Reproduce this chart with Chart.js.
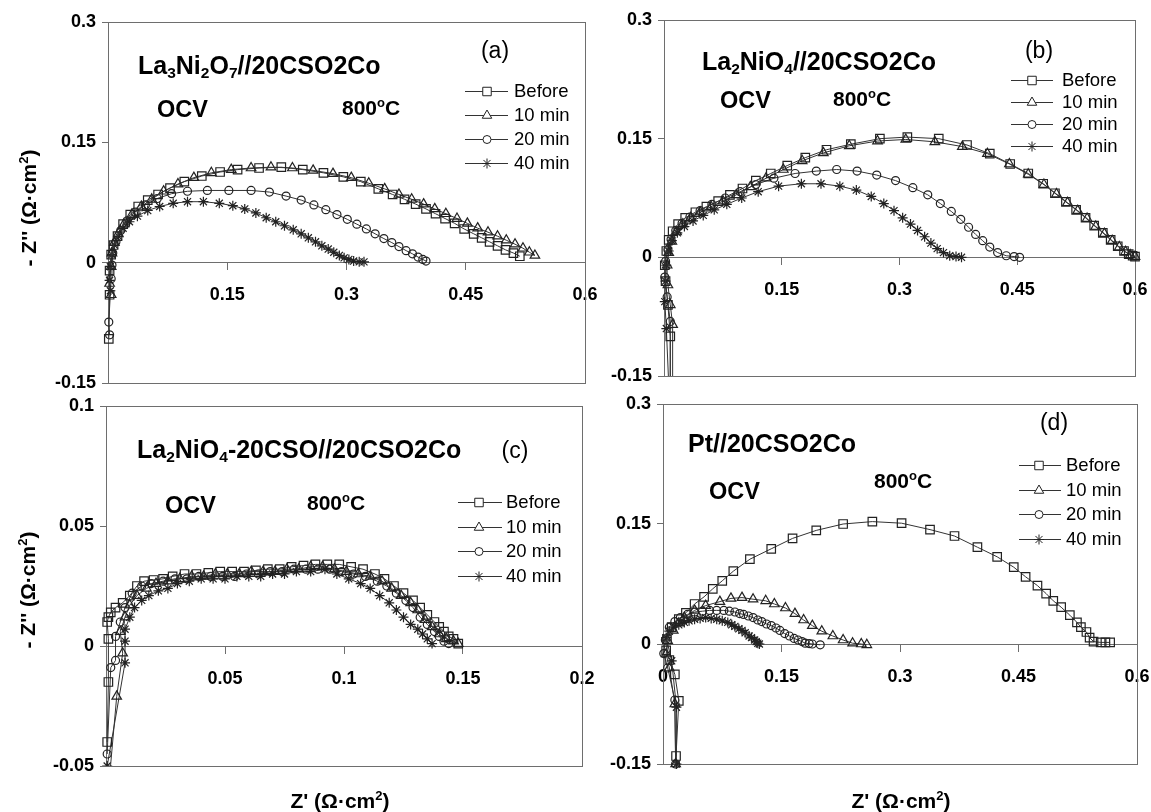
<!DOCTYPE html>
<html>
<head>
<meta charset="utf-8">
<script src="https://cdn.jsdelivr.net/npm/chart.js@4.4.0/dist/chart.umd.min.js"></script>
<style>
body { margin:0; background:#fff; }
#wrap { position:relative; width:1151px; height:812px; overflow:hidden; font-family:"Liberation Sans", Arial, sans-serif; color:#000; background:#fff; }
canvas { position:absolute; }
.lbl { position:absolute; white-space:nowrap; line-height:1; transform:translateY(-50%); }
.ttl { font-weight:bold; font-size:25px; }
.ocv { font-weight:bold; font-size:23.5px; }
.tmp { font-weight:bold; font-size:21px; }
.tag { font-size:23px; transform:translate(-50%,-50%); }
.axt { font-weight:bold; font-size:21px; transform:translate(-50%,-50%); }
.yt { transform:translate(-50%,-50%) rotate(-90deg); }
sub { font-size:0.62em; vertical-align:-0.3em; line-height:0; }
sup { font-size:0.62em; vertical-align:0.6em; line-height:0; }
</style>
</head>
<body>
<div id="wrap">
  <canvas id="pa" width="600" height="400" style="left:0;top:0"></canvas>
  <canvas id="pb" width="547" height="400" style="left:604px;top:0"></canvas>
  <canvas id="pc" width="600" height="422" style="left:0;top:390px"></canvas>
  <canvas id="pd" width="548" height="422" style="left:603px;top:390px"></canvas>

  <div class="lbl ttl" style="left:138px;top:65px">La<sub>3</sub>Ni<sub>2</sub>O<sub>7</sub>//20CSO2Co</div>
  <div class="lbl tag" style="left:495px;top:50px">(a)</div>
  <div class="lbl ocv" style="left:157px;top:110px">OCV</div>
  <div class="lbl tmp" style="left:342px;top:107px">800<sup>o</sup>C</div>

  <div class="lbl ttl" style="left:702px;top:61px">La<sub>2</sub>NiO<sub>4</sub>//20CSO2Co</div>
  <div class="lbl tag" style="left:1039px;top:50px">(b)</div>
  <div class="lbl ocv" style="left:720px;top:101px">OCV</div>
  <div class="lbl tmp" style="left:833px;top:98px">800<sup>o</sup>C</div>

  <div class="lbl ttl" style="left:137px;top:449px">La<sub>2</sub>NiO<sub>4</sub>-20CSO//20CSO2Co</div>
  <div class="lbl tag" style="left:515px;top:450px">(c)</div>
  <div class="lbl ocv" style="left:165px;top:506px">OCV</div>
  <div class="lbl tmp" style="left:307px;top:502px">800<sup>o</sup>C</div>

  <div class="lbl ttl" style="left:688px;top:443px">Pt//20CSO2Co</div>
  <div class="lbl tag" style="left:1054px;top:422px">(d)</div>
  <div class="lbl ocv" style="left:709px;top:492px">OCV</div>
  <div class="lbl tmp" style="left:874px;top:480px">800<sup>o</sup>C</div>

  <div class="lbl axt yt" style="left:28px;top:208px">- Z'' (Ω·cm<sup>2</sup>)</div>
  <div class="lbl axt yt" style="left:27px;top:590px">- Z'' (Ω·cm<sup>2</sup>)</div>
  <div class="lbl axt" style="left:340px;top:800px">Z' (Ω·cm<sup>2</sup>)</div>
  <div class="lbl axt" style="left:901px;top:800px">Z' (Ω·cm<sup>2</sup>)</div>
</div>
<script>
// series names / marker per series
var seriesNames = ['Before', '10 min', '20 min', '40 min'];
var markerStyles = ['rect', 'triangle', 'circle', 'star'];
var markerSizes = [6, 5.5, 4, 5];

// tick values and labels
var xTicksWide = [0, 0.15, 0.3, 0.45, 0.6];
var xLabelsWide = ['', '0.15', '0.3', '0.45', '0.6'];
var xLabelsWideZero = ['0', '0.15', '0.3', '0.45', '0.6'];
var xTicksNarrow = [0, 0.05, 0.1, 0.15, 0.2];
var xLabelsNarrow = ['', '0.05', '0.1', '0.15', '0.2'];
var yTicksWide = [-0.15, 0, 0.15, 0.3];
var yLabelsWide = ['-0.15', '0', '0.15', '0.3'];
var yTicksNarrow = [-0.05, 0, 0.05, 0.1];
var yLabelsNarrow = ['-0.05', '0', '0.05', '0.1'];

// (a) La3Ni2O7//20CSO2Co  [Z', -Z'']
var aBefore = [[0.001,-0.095],[0.002,-0.04],[0.002,-0.01],[0.004,0.01],[0.007,0.022],[0.012,0.033],[0.019,0.048],[0.028,0.06],[0.038,0.07],[0.05,0.078],[0.063,0.085],[0.078,0.093],[0.096,0.101],[0.118,0.108],[0.141,0.113],[0.163,0.116],[0.19,0.118],[0.218,0.119],[0.245,0.116],[0.271,0.112],[0.296,0.107],[0.318,0.101],[0.34,0.092],[0.358,0.085],[0.373,0.079],[0.387,0.073],[0.4,0.067],[0.412,0.061],[0.424,0.055],[0.436,0.049],[0.448,0.042],[0.46,0.036],[0.47,0.031],[0.48,0.026],[0.49,0.021],[0.5,0.016],[0.51,0.012],[0.518,0.008]];
var a10 = [[0.004,-0.04],[0.002,-0.026],[0.004,-0.005],[0.005,0.012],[0.008,0.025],[0.013,0.036],[0.02,0.048],[0.03,0.06],[0.042,0.07],[0.055,0.079],[0.07,0.089],[0.088,0.098],[0.108,0.106],[0.13,0.112],[0.155,0.116],[0.18,0.118],[0.205,0.119],[0.232,0.118],[0.258,0.115],[0.283,0.111],[0.306,0.106],[0.328,0.099],[0.348,0.092],[0.366,0.085],[0.382,0.079],[0.397,0.073],[0.411,0.067],[0.425,0.061],[0.439,0.055],[0.452,0.049],[0.465,0.043],[0.478,0.038],[0.49,0.033],[0.501,0.028],[0.512,0.023],[0.522,0.018],[0.53,0.013],[0.537,0.009]];
var a20 = [[0.002,-0.09],[0.001,-0.074],[0.004,-0.02],[0.005,-0.003],[0.006,0.012],[0.01,0.026],[0.016,0.04],[0.024,0.052],[0.034,0.063],[0.047,0.072],[0.062,0.08],[0.08,0.086],[0.1,0.089],[0.125,0.09],[0.152,0.09],[0.18,0.09],[0.203,0.088],[0.224,0.083],[0.243,0.078],[0.259,0.072],[0.274,0.066],[0.288,0.06],[0.301,0.054],[0.313,0.048],[0.325,0.042],[0.336,0.036],[0.347,0.03],[0.357,0.025],[0.366,0.02],[0.375,0.015],[0.383,0.011],[0.39,0.007],[0.396,0.004],[0.4,0.002]];
var a40 = [[0.003,-0.035],[0.002,-0.022],[0.003,-0.005],[0.005,0.01],[0.008,0.022],[0.013,0.033],[0.019,0.043],[0.027,0.051],[0.037,0.058],[0.05,0.065],[0.065,0.07],[0.082,0.074],[0.1,0.076],[0.12,0.076],[0.14,0.074],[0.157,0.071],[0.172,0.067],[0.186,0.062],[0.199,0.056],[0.211,0.051],[0.222,0.046],[0.233,0.041],[0.243,0.036],[0.252,0.031],[0.261,0.026],[0.269,0.021],[0.277,0.017],[0.284,0.013],[0.291,0.009],[0.297,0.006],[0.303,0.004],[0.309,0.002],[0.316,0.001],[0.322,0.001]];

// (b) La2NiO4//20CSO2Co
var bBefore = [[0.008,-0.16],[0.008,-0.1],[0.005,-0.06],[0.002,-0.03],[0.001,-0.01],[0.003,0.008],[0.006,0.022],[0.011,0.033],[0.018,0.042],[0.027,0.05],[0.04,0.057],[0.054,0.064],[0.069,0.071],[0.084,0.079],[0.1,0.087],[0.117,0.097],[0.136,0.106],[0.157,0.116],[0.18,0.126],[0.207,0.136],[0.238,0.143],[0.275,0.15],[0.31,0.152],[0.35,0.15],[0.386,0.142],[0.415,0.131],[0.441,0.118],[0.464,0.106],[0.483,0.093],[0.498,0.081],[0.512,0.07],[0.525,0.06],[0.537,0.05],[0.548,0.04],[0.559,0.031],[0.569,0.022],[0.578,0.014],[0.586,0.008],[0.592,0.004],[0.597,0.002],[0.6,0.001]];
var b10 = [[0.011,-0.16],[0.011,-0.085],[0.008,-0.06],[0.005,-0.035],[0.004,-0.01],[0.006,0.006],[0.01,0.02],[0.016,0.032],[0.024,0.042],[0.034,0.05],[0.046,0.057],[0.06,0.064],[0.075,0.071],[0.092,0.079],[0.11,0.089],[0.13,0.1],[0.152,0.111],[0.176,0.122],[0.203,0.132],[0.236,0.141],[0.272,0.147],[0.308,0.149],[0.345,0.146],[0.38,0.14],[0.412,0.131],[0.44,0.118],[0.464,0.105],[0.484,0.092],[0.5,0.08],[0.514,0.069],[0.527,0.059],[0.539,0.049],[0.55,0.039],[0.561,0.03],[0.571,0.021],[0.58,0.013],[0.588,0.007],[0.594,0.003],[0.6,0.001]];
var b20 = [[0.008,-0.16],[0.008,-0.081],[0.004,-0.05],[0.001,-0.025],[0.002,-0.005],[0.005,0.01],[0.009,0.023],[0.015,0.034],[0.023,0.043],[0.033,0.051],[0.046,0.059],[0.061,0.067],[0.078,0.075],[0.097,0.083],[0.117,0.092],[0.14,0.1],[0.167,0.106],[0.194,0.109],[0.22,0.111],[0.246,0.109],[0.271,0.104],[0.295,0.097],[0.317,0.088],[0.336,0.079],[0.352,0.068],[0.366,0.058],[0.378,0.048],[0.388,0.038],[0.397,0.029],[0.406,0.021],[0.415,0.013],[0.425,0.006],[0.436,0.002],[0.446,0.001],[0.453,0]];
var b40 = [[0.006,-0.16],[0.003,-0.09],[0.001,-0.056],[0.002,-0.03],[0.003,-0.01],[0.006,0.008],[0.01,0.021],[0.017,0.031],[0.026,0.039],[0.037,0.046],[0.05,0.053],[0.064,0.06],[0.08,0.067],[0.099,0.075],[0.12,0.083],[0.146,0.09],[0.175,0.093],[0.2,0.093],[0.224,0.09],[0.245,0.085],[0.264,0.077],[0.28,0.068],[0.293,0.059],[0.304,0.05],[0.314,0.042],[0.323,0.034],[0.332,0.026],[0.34,0.018],[0.348,0.011],[0.356,0.006],[0.364,0.002],[0.372,0.001],[0.379,0]];

// (c) La2NiO4-20CSO//20CSO2Co
var cBefore = [[0.0005,-0.04],[0.001,-0.015],[0.001,0.003],[0.0005,0.01],[0.001,0.012],[0.002,0.014],[0.004,0.016],[0.007,0.018],[0.01,0.021],[0.013,0.025],[0.016,0.027],[0.02,0.0275],[0.024,0.028],[0.028,0.029],[0.033,0.03],[0.038,0.03],[0.043,0.0305],[0.048,0.031],[0.053,0.031],[0.058,0.031],[0.063,0.0315],[0.068,0.032],[0.073,0.032],[0.078,0.033],[0.083,0.0335],[0.088,0.034],[0.093,0.034],[0.098,0.034],[0.103,0.033],[0.108,0.032],[0.113,0.03],[0.117,0.028],[0.121,0.025],[0.125,0.022],[0.129,0.019],[0.132,0.016],[0.135,0.013],[0.138,0.01],[0.14,0.008],[0.142,0.006],[0.144,0.004],[0.146,0.003],[0.148,0.001]];
var c10 = [[0.001,-0.06],[0.0045,-0.021],[0.007,-0.003],[0.006,0.006],[0.008,0.012],[0.01,0.017],[0.013,0.021],[0.017,0.024],[0.021,0.026],[0.026,0.027],[0.031,0.028],[0.036,0.029],[0.041,0.029],[0.046,0.03],[0.051,0.03],[0.056,0.03],[0.061,0.031],[0.066,0.031],[0.071,0.031],[0.076,0.032],[0.081,0.032],[0.086,0.033],[0.091,0.033],[0.096,0.032],[0.101,0.031],[0.106,0.03],[0.111,0.029],[0.116,0.027],[0.12,0.024],[0.124,0.021],[0.128,0.018],[0.131,0.015],[0.134,0.011],[0.137,0.008],[0.14,0.005],[0.143,0.003],[0.146,0.002],[0.148,0.001]];
var c20 = [[0.0005,-0.045],[0.002,-0.009],[0.004,-0.006],[0.004,0.004],[0.006,0.01],[0.008,0.016],[0.011,0.022],[0.015,0.025],[0.019,0.026],[0.024,0.027],[0.029,0.028],[0.034,0.028],[0.039,0.029],[0.044,0.029],[0.049,0.029],[0.054,0.029],[0.059,0.03],[0.064,0.03],[0.069,0.031],[0.074,0.031],[0.079,0.032],[0.084,0.032],[0.089,0.032],[0.094,0.032],[0.099,0.031],[0.104,0.03],[0.109,0.029],[0.114,0.027],[0.118,0.025],[0.122,0.022],[0.126,0.019],[0.129,0.016],[0.132,0.012],[0.135,0.009],[0.138,0.006],[0.14,0.004],[0.142,0.002],[0.144,0.001]];
var c40 = [[0.0005,-0.05],[0.008,-0.007],[0.008,0.002],[0.008,0.007],[0.01,0.012],[0.012,0.016],[0.015,0.019],[0.018,0.021],[0.022,0.023],[0.026,0.024],[0.03,0.026],[0.035,0.027],[0.04,0.028],[0.045,0.028],[0.05,0.028],[0.055,0.029],[0.06,0.029],[0.065,0.029],[0.07,0.03],[0.075,0.03],[0.08,0.031],[0.086,0.031],[0.092,0.032],[0.097,0.03],[0.102,0.028],[0.107,0.026],[0.111,0.024],[0.115,0.021],[0.119,0.018],[0.122,0.015],[0.125,0.012],[0.128,0.009],[0.131,0.007],[0.133,0.005],[0.135,0.003],[0.137,0.001]];

// (d) Pt//20CSO2Co
var dBefore = [[0.0165,-0.14],[0.02,-0.071],[0.015,-0.038],[0.008,-0.02],[0.004,-0.008],[0.005,0.006],[0.011,0.021],[0.02,0.031],[0.029,0.039],[0.04,0.05],[0.052,0.059],[0.063,0.069],[0.075,0.079],[0.089,0.091],[0.11,0.106],[0.137,0.119],[0.164,0.132],[0.194,0.142],[0.228,0.15],[0.265,0.153],[0.302,0.151],[0.338,0.143],[0.369,0.135],[0.398,0.121],[0.423,0.109],[0.444,0.096],[0.459,0.084],[0.474,0.073],[0.485,0.063],[0.494,0.054],[0.504,0.046],[0.515,0.036],[0.524,0.027],[0.529,0.021],[0.536,0.015],[0.54,0.008],[0.545,0.003],[0.554,0.002],[0.56,0.002],[0.566,0.002]];
var d10 = [[0.016,-0.15],[0.015,-0.075],[0.008,-0.03],[0.004,-0.0125],[0.006,0.004],[0.013,0.017],[0.02,0.026],[0.027,0.033],[0.04,0.042],[0.054,0.048],[0.072,0.053],[0.086,0.057],[0.1,0.058],[0.114,0.056],[0.13,0.054],[0.141,0.05],[0.155,0.045],[0.167,0.038],[0.178,0.03],[0.189,0.023],[0.201,0.016],[0.215,0.01],[0.228,0.005],[0.24,0.001],[0.251,0],[0.258,-0.001]];
var d20 = [[0.016,-0.15],[0.015,-0.07],[0.006,-0.03],[0.001,-0.012],[0.003,0.005],[0.008,0.021],[0.015,0.028],[0.022,0.033],[0.031,0.037],[0.04,0.04],[0.05,0.041],[0.059,0.042],[0.068,0.042],[0.077,0.042],[0.084,0.041],[0.091,0.04],[0.097,0.038],[0.102,0.037],[0.108,0.035],[0.114,0.033],[0.12,0.03],[0.125,0.028],[0.131,0.025],[0.137,0.023],[0.143,0.02],[0.148,0.017],[0.154,0.013],[0.16,0.01],[0.166,0.007],[0.171,0.005],[0.176,0.003],[0.18,0.001],[0.185,0.0005],[0.189,0],[0.199,-0.001]];
var d40 = [[0.017,-0.15],[0.017,-0.079],[0.011,-0.021],[0.004,0.008],[0.008,0.016],[0.013,0.021],[0.02,0.024],[0.027,0.027],[0.033,0.029],[0.04,0.031],[0.047,0.032],[0.054,0.033],[0.061,0.032],[0.068,0.031],[0.075,0.029],[0.082,0.027],[0.087,0.024],[0.091,0.022],[0.096,0.019],[0.1,0.017],[0.104,0.014],[0.109,0.01],[0.112,0.008],[0.116,0.005],[0.118,0.003],[0.12,0.001],[0.122,0]];

var FONT = '"Liberation Sans", Arial, sans-serif';
var AXIS_GREY = '#6e6e6e';

// box round the plot area + in-plot legend (line with marker, then text)
var framePlugin = {
  id: 'frame',
  beforeDatasetsDraw: function(chart) {
    var ctx = chart.ctx, a = chart.chartArea;
    ctx.save();
    ctx.strokeStyle = AXIS_GREY;
    ctx.lineWidth = 1;
    ctx.strokeRect(Math.round(a.left) + 0.5, Math.round(a.top) + 0.5, Math.round(a.right - a.left), Math.round(a.bottom - a.top));
    ctx.restore();
  },
  afterDatasetsDraw: function(chart, args, opts) {
    var lg = opts.legend;
    if (!lg) return;
    var ctx = chart.ctx;
    ctx.save();
    ctx.font = '18.5px ' + FONT;
    ctx.textBaseline = 'middle';
    chart.data.datasets.forEach(function(ds, i) {
      var y = lg.rows[i];
      ctx.strokeStyle = '#333';
      ctx.lineWidth = 1;
      ctx.beginPath();
      ctx.moveTo(lg.x1, y + 0.5);
      ctx.lineTo(lg.x2, y + 0.5);
      ctx.stroke();
      ctx.fillStyle = '#fff';
      ctx.strokeStyle = '#222';
      if (Chart.helpers && Chart.helpers.drawPoint) {
        Chart.helpers.drawPoint(ctx, {pointStyle: ds.pointStyle, radius: ds.pointRadius, borderWidth: 1.2, rotation: 0}, lg.mx, y + 0.5);
      } else {
        ctx.fillRect(lg.mx - 4, y - 4, 8, 8);
        ctx.strokeRect(lg.mx - 4, y - 4, 8, 8);
      }
      ctx.fillStyle = '#000';
      ctx.fillText(ds.label, lg.tx, y + 1);
    });
    ctx.restore();
  }
};

function makePanel(id, p) {
  var datasets = p.series.map(function(pts, i) {
    return {
      label: seriesNames[i],
      data: pts.map(function(v) { return {x: v[0], y: v[1]}; }),
      showLine: true,
      borderColor: '#333',
      borderWidth: 1,
      pointStyle: markerStyles[i],
      pointRadius: markerSizes[i],
      pointBorderColor: '#222',
      pointBackgroundColor: 'rgba(255,255,255,0)',
      pointBorderWidth: 1.2,
      clip: p.clip
    };
  });
  return new Chart(document.getElementById(id), {
    type: 'scatter',
    data: { datasets: datasets },
    options: {
      responsive: false,
      animation: false,
      events: [],
      layout: { padding: p.pad },
      plugins: {
        legend: { display: false },
        tooltip: { enabled: false },
        frame: { legend: p.legend }
      },
      scales: {
        x: {
          type: 'linear',
          min: p.xTicks[0],
          max: p.xTicks[p.xTicks.length - 1],
          position: { y: 0 },
          afterBuildTicks: function(s) { s.ticks = p.xTicks.map(function(v) { return {value: v}; }); },
          afterFit: function(s) { s.paddingLeft = 0; s.paddingRight = 0; },
          border: { color: AXIS_GREY, width: 1 },
          grid: { drawOnChartArea: false, drawTicks: true, tickLength: 7, color: AXIS_GREY },
          ticks: {
            padding: 15, color: '#000', maxRotation: 0, autoSkip: false,
            font: { family: FONT, size: 18, weight: 'bold' },
            callback: function(v, i) { return p.xLabels[i]; }
          }
        },
        y: {
          type: 'linear',
          position: 'left',
          min: p.yTicks[0],
          max: p.yTicks[p.yTicks.length - 1],
          afterBuildTicks: function(s) { s.ticks = p.yTicks.map(function(v) { return {value: v}; }); },
          afterFit: function(s) { s.width = p.yW; s.paddingTop = 0; s.paddingBottom = 0; },
          border: { color: AXIS_GREY, width: 1 },
          grid: { drawOnChartArea: false, drawTicks: true, tickLength: 6, color: AXIS_GREY },
          ticks: {
            padding: 6, color: '#000',
            font: { family: FONT, size: 18, weight: 'bold' },
            callback: function(v, i) { return p.yLabels[i]; }
          }
        }
      }
    },
    plugins: [framePlugin]
  });
}

var clipNoBottom = { left: 8, top: 8, right: 8, bottom: 0 };
var clipAll = { left: 8, top: 8, right: 8, bottom: 8 };

makePanel('pa', {
  series: [aBefore, a10, a20, a40],
  xTicks: xTicksWide, xLabels: xLabelsWide, yTicks: yTicksWide, yLabels: yLabelsWide,
  yW: 108, pad: { left: 0, top: 22, right: 15, bottom: 17 }, clip: clipNoBottom,
  legend: { x1: 465, x2: 508, mx: 487, tx: 514, rows: [91, 115, 139, 163] }
});
makePanel('pb', {
  series: [bBefore, b10, b20, b40],
  xTicks: xTicksWide, xLabels: xLabelsWide, yTicks: yTicksWide, yLabels: yLabelsWide,
  yW: 60, pad: { left: 0, top: 20, right: 16, bottom: 24 }, clip: clipNoBottom,
  legend: { x1: 407, x2: 449, mx: 428, tx: 458, rows: [80, 102, 124, 146] }
});
makePanel('pc', {
  series: [cBefore, c10, c20, c40],
  xTicks: xTicksNarrow, xLabels: xLabelsNarrow, yTicks: yTicksNarrow, yLabels: yLabelsNarrow,
  yW: 106, pad: { left: 0, top: 16, right: 18, bottom: 46 }, clip: clipNoBottom,
  legend: { x1: 458, x2: 502, mx: 479, tx: 506, rows: [112, 137, 161, 186] }
});
makePanel('pd', {
  series: [dBefore, d10, d20, d40],
  xTicks: xTicksWide, xLabels: xLabelsWideZero, yTicks: yTicksWide, yLabels: yLabelsWide,
  yW: 60, pad: { left: 0, top: 14, right: 14, bottom: 48 }, clip: clipAll,
  legend: { x1: 416, x2: 458, mx: 436, tx: 463, rows: [75, 100, 124, 149] }
});
</script>
</body>
</html>
